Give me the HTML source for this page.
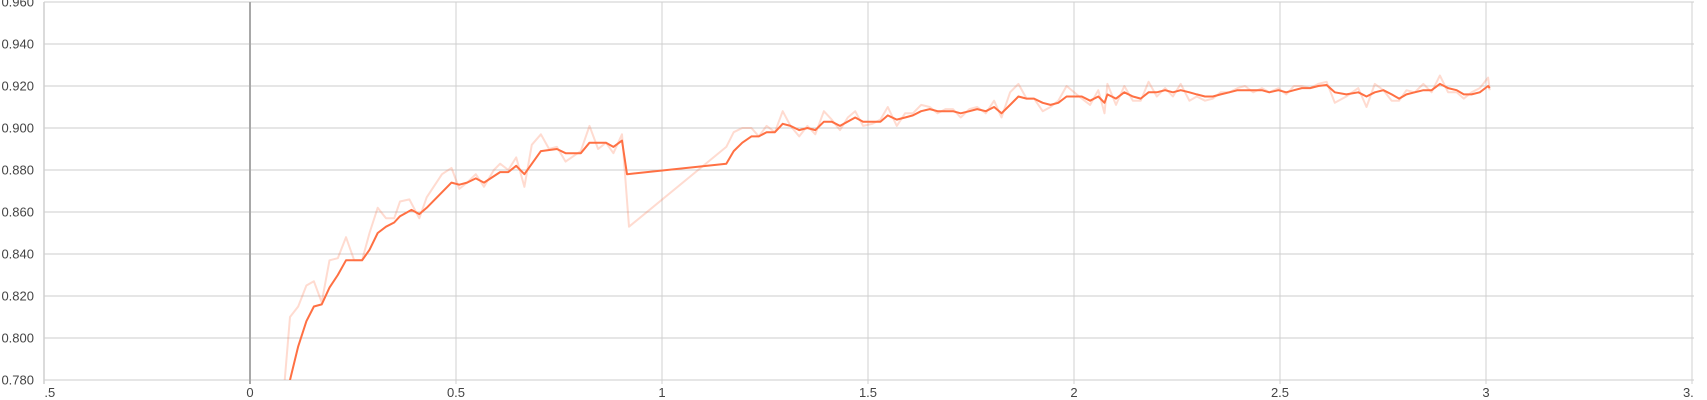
<!DOCTYPE html>
<html><head><meta charset="utf-8"><style>
html,body{margin:0;padding:0;background:#fff;}
svg{display:block;font-family:"Liberation Sans",sans-serif;}
</style></head><body>
<svg id="chart" width="1707" height="400">
<defs>
<clipPath id="plotclip"><rect x="44" y="2" width="1650" height="378"/></clipPath>
<clipPath id="xlabclip"><rect x="44" y="380" width="1650" height="20"/></clipPath>
</defs>
<g id="grid"></g>
<g id="ylabels"></g>
<g id="xlabels" clip-path="url(#xlabclip)"></g>
<g id="series" clip-path="url(#plotclip)"></g>
</svg>
<script>
const yTicks = [0.78,0.80,0.82,0.84,0.86,0.88,0.90,0.92,0.94,0.96];
const xTicks = [-0.5,0,0.5,1,1.5,2,2.5,3,3.5];
const xTickLabels = ["-0.5","0","0.5","1","1.5","2","2.5","3","3.5"];
const smoothX = [0.085,0.097,0.117,0.137,0.155,0.174,0.193,0.213,0.233,0.253,0.272,0.290,0.310,0.330,0.350,0.364,0.392,0.411,0.429,0.489,0.508,0.527,0.548,0.568,0.607,0.627,0.646,0.666,0.706,0.745,0.766,0.803,0.824,0.845,0.864,0.882,0.903,0.915,1.156,1.174,1.195,1.217,1.235,1.254,1.274,1.293,1.312,1.333,1.353,1.372,1.393,1.412,1.432,1.469,1.488,1.511,1.530,1.548,1.570,1.590,1.609,1.629,1.650,1.669,1.688,1.706,1.725,1.746,1.765,1.786,1.806,1.824,1.845,1.865,1.885,1.903,1.924,1.943,1.962,1.982,2.019,2.039,2.059,2.074,2.081,2.102,2.122,2.143,2.162,2.181,2.201,2.221,2.240,2.259,2.280,2.298,2.318,2.337,2.356,2.377,2.397,2.415,2.435,2.456,2.474,2.496,2.515,2.534,2.553,2.573,2.593,2.613,2.633,2.661,2.690,2.710,2.730,2.751,2.771,2.789,2.807,2.827,2.848,2.868,2.888,2.908,2.929,2.946,2.965,2.985,3.005,3.009];
const smoothY = [0.770,0.780,0.796,0.808,0.815,0.816,0.824,0.830,0.837,0.837,0.837,0.842,0.850,0.853,0.855,0.858,0.861,0.859,0.862,0.874,0.873,0.874,0.876,0.874,0.879,0.879,0.882,0.878,0.889,0.890,0.888,0.888,0.893,0.893,0.893,0.891,0.894,0.878,0.883,0.889,0.893,0.896,0.896,0.898,0.898,0.902,0.901,0.899,0.900,0.899,0.903,0.903,0.901,0.905,0.903,0.903,0.903,0.906,0.904,0.905,0.906,0.908,0.909,0.908,0.908,0.908,0.907,0.908,0.909,0.908,0.910,0.907,0.911,0.915,0.914,0.914,0.912,0.911,0.912,0.915,0.915,0.913,0.915,0.912,0.916,0.914,0.917,0.915,0.914,0.917,0.917,0.918,0.917,0.918,0.917,0.916,0.915,0.915,0.916,0.917,0.918,0.918,0.918,0.918,0.917,0.918,0.917,0.918,0.919,0.919,0.920,0.9205,0.917,0.916,0.917,0.915,0.917,0.918,0.916,0.914,0.916,0.917,0.918,0.918,0.921,0.919,0.918,0.916,0.916,0.917,0.920,0.919];
const rawX = [0.080,0.097,0.117,0.137,0.155,0.174,0.193,0.213,0.233,0.253,0.272,0.290,0.310,0.330,0.350,0.364,0.387,0.411,0.429,0.466,0.489,0.508,0.527,0.548,0.568,0.592,0.607,0.627,0.646,0.666,0.684,0.706,0.726,0.745,0.766,0.803,0.824,0.845,0.864,0.882,0.903,0.920,1.156,1.174,1.195,1.217,1.235,1.254,1.274,1.293,1.312,1.333,1.353,1.372,1.393,1.412,1.432,1.451,1.469,1.488,1.511,1.530,1.548,1.570,1.590,1.609,1.629,1.650,1.669,1.688,1.706,1.725,1.746,1.765,1.786,1.806,1.824,1.845,1.865,1.885,1.903,1.924,1.943,1.962,1.982,2.019,2.039,2.059,2.074,2.081,2.102,2.122,2.143,2.162,2.181,2.201,2.221,2.240,2.259,2.280,2.298,2.318,2.337,2.356,2.377,2.397,2.415,2.435,2.456,2.474,2.496,2.515,2.534,2.553,2.573,2.593,2.613,2.633,2.661,2.690,2.710,2.730,2.751,2.771,2.789,2.807,2.827,2.848,2.868,2.888,2.908,2.929,2.946,2.965,2.985,3.005,3.009];
const rawY = [0.770,0.810,0.815,0.825,0.827,0.817,0.837,0.838,0.848,0.837,0.837,0.850,0.862,0.857,0.857,0.865,0.866,0.857,0.867,0.878,0.881,0.871,0.874,0.878,0.872,0.880,0.883,0.880,0.886,0.872,0.892,0.897,0.890,0.891,0.884,0.889,0.901,0.890,0.893,0.888,0.897,0.853,0.891,0.898,0.900,0.900,0.896,0.901,0.898,0.908,0.901,0.896,0.901,0.897,0.908,0.904,0.899,0.905,0.908,0.901,0.902,0.904,0.910,0.901,0.907,0.907,0.911,0.910,0.907,0.909,0.909,0.905,0.909,0.910,0.907,0.913,0.905,0.917,0.921,0.914,0.914,0.908,0.910,0.913,0.920,0.914,0.911,0.918,0.907,0.921,0.911,0.920,0.913,0.913,0.922,0.915,0.919,0.915,0.921,0.913,0.915,0.913,0.914,0.917,0.917,0.919,0.920,0.917,0.919,0.917,0.919,0.916,0.920,0.920,0.919,0.921,0.922,0.912,0.915,0.919,0.910,0.921,0.918,0.913,0.913,0.918,0.917,0.921,0.917,0.925,0.917,0.917,0.914,0.917,0.919,0.924,0.918];

const NS = "http://www.w3.org/2000/svg";
const X0 = 44, X1 = 1692, Y0 = 380, Y1 = 2;
function xs(v){ return X0 + (v - (-0.5)) / 4.0 * (X1 - X0); }
function ys(v){ return Y0 - (v - 0.78) / 0.18 * (Y0 - Y1); }
function mk(tag, attrs, parent){
  const e = document.createElementNS(NS, tag);
  for (const k in attrs) e.setAttribute(k, attrs[k]);
  parent.appendChild(e); return e;
}
const grid = document.getElementById('grid');
const ylab = document.getElementById('ylabels');
const xlab = document.getElementById('xlabels');
const series = document.getElementById('series');

yTicks.forEach(t => {
  const l = mk('line', {x1: X0, x2: 1694, y1: ys(t), y2: ys(t), stroke: '#cccccc', 'stroke-width': 1}, grid);
  
  
  const tx = mk('text', {x: 34, y: ys(t) + 4.5, 'text-anchor': 'end', 'font-size': 13, fill: '#444'}, ylab);
  tx.textContent = t.toFixed(3);
  
  
});
xTicks.forEach((t, i) => {
  const isZero = t === 0;
  const l = mk('line', {x1: xs(t), x2: xs(t), y1: Y1, y2: Y0 + 4, stroke: isZero ? '#a8a8a8' : '#d0d0d0', 'stroke-width': isZero ? 2 : 1}, grid);
  
  
  const tx = mk('text', {x: xs(t), y: 397, 'text-anchor': 'middle', 'font-size': 13, fill: '#444'}, xlab);
  tx.textContent = xTickLabels[i];
  
  
});
const axisL = mk('line', {x1: X0, x2: X0, y1: Y1, y2: Y0 + 4, stroke: '#cfcfcf', 'stroke-width': 1.5}, grid);



function pathFrom(xa, ya){
  return xa.map((x, i) => (i ? 'L' : 'M') + xs(x).toFixed(1) + ',' + ys(ya[i]).toFixed(1)).join(' ');
}
const raw = mk('path', {d: pathFrom(rawX, rawY), fill: 'none', stroke: '#ff7043', 'stroke-opacity': 0.25, 'stroke-width': 2, 'stroke-linejoin': 'round'}, series);


const sm = mk('path', {d: pathFrom(smoothX, smoothY), fill: 'none', stroke: '#ff7043', 'stroke-width': 2, 'stroke-linejoin': 'round'}, series);


</script>
</body></html>
